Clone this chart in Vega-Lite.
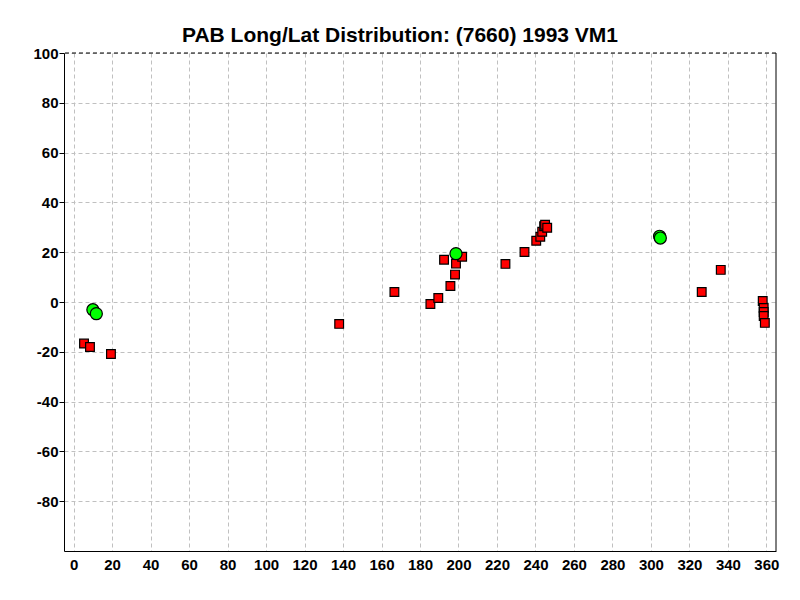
{
  "$schema": "https://vega.github.io/schema/vega-lite/v6.json",
  "autosize": "none",
  "width": 712,
  "height": 498,
  "padding": {"left": 64, "top": 53, "right": 24, "bottom": 49},
  "background": "white",
  "title": {
    "text": "PAB Long/Lat Distribution: (7660) 1993 VM1",
    "font": "Liberation Sans",
    "fontSize": 21,
    "fontWeight": "bold",
    "color": "black",
    "anchor": "middle",
    "dx": -20,
    "dy": 9,
    "offset": 9
  },
  "config": {
    "view": {"stroke": null},
    "axis": {
      "labelFont": "Liberation Sans",
      "labelFontSize": 15,
      "labelFontWeight": "bold",
      "labelColor": "black",
      "labelOverlap": false,
      "domainColor": "black",
      "domainWidth": 1,
      "tickColor": "black",
      "gridColor": "#c0c0c0",
      "gridDash": [4, 3],
      "gridWidth": 1,
      "title": null
    }
  },
  "datasets": {
    "pts": [
      {"lon": 5.4, "lat": -16.7, "kind": "PAB"},
      {"lon": 8.5, "lat": -18.1, "kind": "PAB"},
      {"lon": 19.4, "lat": -20.9, "kind": "PAB"},
      {"lon": 138.0, "lat": -8.8, "kind": "PAB"},
      {"lon": 166.7, "lat": 4.0, "kind": "PAB"},
      {"lon": 185.4, "lat": -0.8, "kind": "PAB"},
      {"lon": 189.5, "lat": 1.6, "kind": "PAB"},
      {"lon": 195.8, "lat": 6.4, "kind": "PAB"},
      {"lon": 198.2, "lat": 11.0, "kind": "PAB"},
      {"lon": 198.7, "lat": 15.4, "kind": "PAB"},
      {"lon": 192.5, "lat": 17.0, "kind": "PAB"},
      {"lon": 201.9, "lat": 18.2, "kind": "PAB"},
      {"lon": 224.4, "lat": 15.3, "kind": "PAB"},
      {"lon": 234.3, "lat": 20.1, "kind": "PAB"},
      {"lon": 240.4, "lat": 24.6, "kind": "PAB"},
      {"lon": 242.5, "lat": 26.2, "kind": "PAB"},
      {"lon": 243.5, "lat": 28.2, "kind": "PAB"},
      {"lon": 244.5, "lat": 30.4, "kind": "PAB"},
      {"lon": 245.0, "lat": 31.0, "kind": "PAB"},
      {"lon": 246.1, "lat": 29.8, "kind": "PAB"},
      {"lon": 326.4, "lat": 4.0, "kind": "PAB"},
      {"lon": 336.3, "lat": 12.9, "kind": "PAB"},
      {"lon": 358.1, "lat": 0.4, "kind": "PAB"},
      {"lon": 358.6, "lat": -2.4, "kind": "PAB"},
      {"lon": 358.6, "lat": -4.0, "kind": "PAB"},
      {"lon": 358.6, "lat": -5.6, "kind": "PAB"},
      {"lon": 359.2, "lat": -8.4, "kind": "PAB"},
      {"lon": 10.0, "lat": -3.1, "kind": "Obs"},
      {"lon": 11.8, "lat": -4.7, "kind": "Obs"},
      {"lon": 198.7, "lat": 19.4, "kind": "Obs"},
      {"lon": 304.5, "lat": 26.4, "kind": "Obs"},
      {"lon": 304.9, "lat": 25.7, "kind": "Obs"}
    ]
  },
  "layer": [
    {
      "data": {"name": "pts"},
      "mark": {"type": "point", "filled": true, "stroke": "black", "strokeWidth": 1.2, "opacity": 1},
      "encoding": {
        "x": {
          "field": "lon",
          "type": "quantitative",
          "scale": {"domain": [-5, 365], "nice": false, "zero": false},
          "axis": {
            "values": [0, 20, 40, 60, 80, 100, 120, 140, 160, 180, 200, 220, 240, 260, 280, 300, 320, 340, 360],
            "tickSize": 0,
            "labelPadding": 6,
            "labelFlush": false,
            "labelOverlap": false,
            "grid": true
          }
        },
        "y": {
          "field": "lat",
          "type": "quantitative",
          "scale": {"domain": [-100, 100], "nice": false},
          "axis": {
            "values": [-80, -60, -40, -20, 0, 20, 40, 60, 80, 100],
            "labelExpr": "datum.value < 0 ? '-' + abs(datum.value) : '' + datum.value",
            "tickSize": 5,
            "labelPadding": 1,
            "labelFlush": false,
            "labelOverlap": false,
            "grid": true
          }
        },
        "shape": {
          "field": "kind",
          "type": "nominal",
          "scale": {"domain": ["PAB", "Obs"], "range": ["square", "circle"]},
          "legend": null
        },
        "color": {
          "field": "kind",
          "type": "nominal",
          "scale": {"domain": ["PAB", "Obs"], "range": ["#ff0000", "#00ff00"]},
          "legend": null
        },
        "size": {
          "field": "kind",
          "type": "nominal",
          "scale": {"domain": ["PAB", "Obs"], "range": [76, 145]},
          "legend": null
        },
        "order": {"field": "kind", "sort": "descending"}
      }
    },
    {
      "data": {"values": [{"edge": "top"}]},
      "mark": {"type": "rule", "color": "black", "strokeDash": [4, 3], "strokeWidth": 1},
      "encoding": {
        "y": {
          "datum": 100,
          "type": "quantitative",
          "axis": {
            "values": [-80, -60, -40, -20, 0, 20, 40, 60, 80, 100],
            "labelExpr": "datum.value < 0 ? '-' + abs(datum.value) : '' + datum.value",
            "tickSize": 5,
            "labelPadding": 1,
            "labelFlush": false,
            "labelOverlap": false,
            "grid": true
          }
        }
      }
    },
    {
      "data": {"values": [{"edge": "right"}]},
      "mark": {"type": "rule", "color": "black", "strokeWidth": 1},
      "encoding": {
        "x": {
          "datum": 365,
          "type": "quantitative",
          "axis": {
            "values": [0, 20, 40, 60, 80, 100, 120, 140, 160, 180, 200, 220, 240, 260, 280, 300, 320, 340, 360],
            "tickSize": 0,
            "labelPadding": 6,
            "labelFlush": false,
            "labelOverlap": false,
            "grid": true
          }
        }
      }
    }
  ]
}
